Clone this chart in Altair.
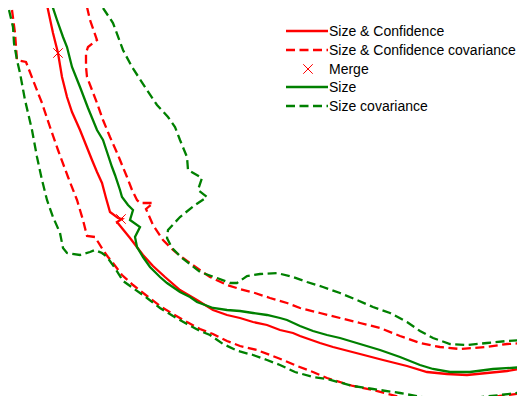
import altair as alt
import pandas as pd

# ---- data (image-like coordinate units) ----
sc_x = [47, 53, 58, 62, 67, 72, 80, 86, 92, 97, 102, 106, 110, 118, 122, 117, 130, 143, 153, 165, 180, 197, 213, 227, 240, 253, 267, 280, 293, 300, 320, 333, 360, 383, 407, 427, 447, 467, 487, 507, 525]
sc_y = [5, 33, 53, 77, 97, 112, 130, 145, 160, 172, 183, 198, 212, 218, 219, 222, 238, 255, 266, 277, 290, 300, 310, 315, 318, 322, 325, 330, 333, 336, 343, 347, 354, 360, 366, 372, 374, 375, 373, 371, 368]

scc_up_x = [87, 90, 97, 88, 86, 86, 87, 92, 97, 103, 110, 118, 120, 127, 132, 137, 140, 153, 146, 153, 163, 173, 183, 197, 210, 227, 240, 255, 270, 287, 300, 320, 340, 360, 380, 400, 420, 440, 460, 487, 507, 525]
scc_up_y = [7, 20, 40, 47, 53, 67, 77, 90, 103, 120, 137, 155, 160, 177, 190, 200, 203, 203, 209, 225, 240, 250, 258, 268, 277, 285, 289, 293, 298, 303, 308, 313, 318, 323, 328, 336, 343, 347, 349, 347, 344, 343]
scc_lo_x = [12, 15, 17, 26, 33, 38, 42, 50, 58, 68, 77, 83, 87, 95, 103, 108, 113, 122, 133, 147, 160, 173, 187, 200, 213, 227, 240, 257, 270, 283, 297, 313, 327, 353, 373, 400, 427, 450, 473, 500, 525]
scc_lo_y = [10, 33, 60, 62, 80, 93, 103, 127, 150, 177, 200, 220, 236, 237, 250, 257, 263, 275, 285, 296, 306, 314, 322, 329, 334, 341, 346, 350, 355, 360, 366, 372, 378, 386, 390, 397, 400, 402, 400, 396, 393]

merge_x = [58, 121]
merge_y = [53, 219]

s_x = [52, 57, 63, 67, 72, 80, 88, 97, 103, 108, 112, 115, 120, 122, 128, 133, 130, 140, 135, 137, 143, 150, 160, 167, 180, 190, 197, 213, 227, 240, 253, 267, 280, 287, 300, 313, 327, 340, 360, 380, 400, 420, 433, 450, 470, 493, 525]
s_y = [5, 20, 37, 47, 67, 87, 108, 130, 140, 155, 167, 175, 190, 197, 205, 210, 220, 227, 237, 247, 257, 267, 277, 283, 292, 297, 302, 308, 310, 311, 313, 315, 318, 320, 326, 331, 335, 338, 344, 350, 357, 365, 369, 372, 372, 369, 367]

sc_up_x = [103, 113, 123, 132, 147, 157, 168, 175, 180, 187, 188, 202, 198, 207, 195, 180, 168, 167, 172, 182, 200, 217, 230, 237, 247, 260, 277, 293, 307, 323, 340, 357, 373, 390, 407, 420, 433, 450, 467, 487, 507, 525]
sc_up_y = [8, 23, 50, 67, 90, 105, 117, 127, 140, 157, 170, 178, 190, 197, 205, 217, 230, 238, 248, 258, 272, 278, 283, 283, 276, 274, 273, 277, 282, 287, 293, 300, 307, 313, 322, 331, 338, 344, 345, 343, 341, 340]
sc_lo_x = [9, 13, 14, 17, 20, 25, 32, 37, 42, 47, 53, 60, 63, 67, 80, 90, 95, 102, 107, 115, 123, 133, 147, 160, 173, 187, 200, 210, 223, 238, 253, 267, 280, 295, 313, 327, 353, 373, 400, 427, 450, 473, 500, 525]
sc_lo_y = [10, 27, 43, 60, 73, 100, 130, 157, 180, 200, 217, 233, 248, 253, 255, 252, 250, 253, 257, 268, 281, 288, 298, 308, 316, 324, 331, 335, 344, 351, 355, 360, 365, 372, 377, 379, 386, 389, 393, 398, 399, 398, 395, 392]

legend_labels = ["Size & Confidence", "Size & Confidence covariance", "Merge", "Size", "Size covariance"]
legend_rows = [31, 50, 69, 87, 106]

RED = "#ff0000"
GREEN = "#008000"
DASH = [9, 4.5]
LW = 2.3

def frame(series, part, xs, ys):
    return pd.DataFrame({"series": series, "part": part, "i": range(len(xs)), "x": xs, "y": ys})

lines = pd.concat([
    frame("sc", "a", sc_x, sc_y),
    frame("scc", "up", scc_up_x, scc_up_y),
    frame("scc", "lo", scc_lo_x, scc_lo_y),
    frame("s", "a", s_x, s_y),
    frame("sv", "up", sc_up_x, sc_up_y),
    frame("sv", "lo", sc_lo_x, sc_lo_y),
], ignore_index=True)

merge_df = pd.DataFrame({"x": merge_x, "y": merge_y})

leg = pd.DataFrame({"label": legend_labels, "y": legend_rows,
                    "x0": [286] * 5, "x1": [328] * 5, "xt": [329] * 5, "xm": [308] * 5})

xs = alt.Scale(domain=[8, 517], nice=False, zero=False)
ys = alt.Scale(domain=[8, 396], reverse=True, nice=False, zero=False)
X = alt.X("x:Q", scale=xs, axis=None)
Y = alt.Y("y:Q", scale=ys, axis=None)

def line_layer(series, color, dash):
    kw = dict(color=color, strokeWidth=LW, clip=True)
    if dash:
        kw["strokeDash"] = DASH
    return alt.Chart(lines).transform_filter(alt.datum.series == series).mark_line(**kw).encode(
        x=X, y=Y, detail="part:N", order="i:Q")

XSHAPE = "M-1,-1L1,1M1,-1L-1,1"

merge_layer = alt.Chart(merge_df).mark_point(
    shape=XSHAPE, size=90, strokeWidth=1, color=RED, filled=False, opacity=1, clip=True
).encode(x=X, y=Y)

def leg_rule(idx, color, dash):
    kw = dict(color=color, strokeWidth=LW)
    if dash:
        kw["strokeDash"] = DASH
    return alt.Chart(leg).transform_filter(alt.datum.label == legend_labels[idx]).mark_rule(**kw).encode(
        x=alt.X("x0:Q", scale=xs, axis=None), x2="x1:Q", y=alt.Y("y:Q", scale=ys, axis=None))

leg_text = alt.Chart(leg).mark_text(
    align="left", baseline="alphabetic", dy=5, fontSize=14, font="Liberation Sans", color="black"
).encode(x=alt.X("xt:Q", scale=xs, axis=None), y=alt.Y("y:Q", scale=ys, axis=None), text="label:N")

leg_merge = alt.Chart(leg).transform_filter(alt.datum.label == "Merge").mark_point(
    shape=XSHAPE, size=90, strokeWidth=1, color=RED, filled=False, opacity=1
).encode(x=alt.X("xm:Q", scale=xs, axis=None), y=alt.Y("y:Q", scale=ys, axis=None))

chart = alt.layer(
    line_layer("sc", RED, False),
    line_layer("scc", RED, True),
    merge_layer,
    line_layer("s", GREEN, False),
    line_layer("sv", GREEN, True),
    leg_rule(0, RED, False),
    leg_rule(1, RED, True),
    leg_merge,
    leg_rule(3, GREEN, False),
    leg_rule(4, GREEN, True),
    leg_text,
).properties(width=509, height=388, padding=0, autosize="none").configure_view(stroke=None)

chart.save("out.html", embed_options={"renderer": "svg", "actions": False})
